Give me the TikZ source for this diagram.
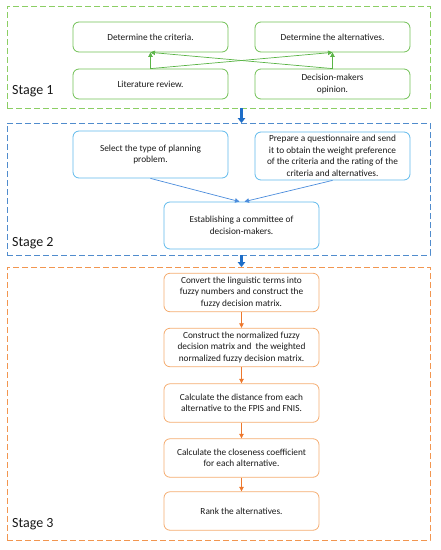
\documentclass[tikz,border=0pt]{standalone}
\usepackage{fontspec}
\setmainfont{Carlito}
\usetikzlibrary{positioning}
\usetikzlibrary{arrows.meta}
\definecolor{framegreen}{RGB}{140,206,100}
\definecolor{boxgreen}{RGB}{112,192,84}
\definecolor{arrowgreen}{RGB}{90,180,70}
\definecolor{frameblue}{RGB}{80,140,205}
\definecolor{boxblue}{RGB}{95,185,235}
\definecolor{arrowblue}{RGB}{75,140,220}
\definecolor{bigblue}{RGB}{30,110,200}
\definecolor{frameorange}{RGB}{242,150,80}
\definecolor{boxorange}{RGB}{244,172,112}
\definecolor{arroworange}{RGB}{237,120,45}
\tikzstyle{frame}=[rectangle,dash pattern=on 6pt off 3pt,line width=0.9pt,inner sep=0pt,outer sep=0pt,minimum width=423pt]
\tikzstyle{stepbox}=[rectangle,rounded corners=6pt,line width=0.8pt,minimum width=155pt,align=center,inner sep=2pt,font=\fontsize{9.3}{11.5}\selectfont,text=black!90]
\tikzstyle{stagelabel}=[anchor=west,inner sep=0pt,font=\fontsize{14}{16}\selectfont,text=black!90]
\tikzstyle{smallarrow}=[-{Triangle[length=4.5pt,width=4.5pt]},line width=0.7pt]
\tikzstyle{bigarrow}=[-{Triangle[length=5pt,width=7.5pt]},line width=2.6pt,bigblue]

\begin{document}
\begin{tikzpicture}[x=1pt,y=-1pt]
\useasboundingbox (0,0) rectangle (440,550);

%Stage 1
\node[frame,draw=framegreen,minimum height=102pt] (f1) at (218.5,57) {};
\node[stagelabel] (l1) at (12,91) {Stage 1};
    \foreach \pos/\name/\label in {{(150.5,37)/crit/Determine the criteria.}, {(332.5,37)/alt/Determine the alternatives.},
      {(150.5,84)/lit/Literature review.}, {(332.5,84)/dec/Decision-makers\\opinion.}}
        \node[stepbox,draw=boxgreen,minimum height=30pt] (\name) at \pos {\label};
  \foreach \source/ \dest in {lit/crit, lit/alt, dec/crit, dec/alt}
          \draw[smallarrow,arrowgreen] (\source.north) -- (\dest.south);

%Stage 2
\node[frame,draw=frameblue,minimum height=132pt] (f2) at (218.5,189) {};
\node[stagelabel] (l2) at (12,243) {Stage 2};
\node[stepbox,draw=boxblue,minimum height=47pt] (sel) at (150.5,154.5) {Select the type of planning\\problem.};
\node[stepbox,draw=boxblue,minimum height=48pt] (prep) at (332.5,156) {Prepare a questionnaire and send\\it to obtain the weight preference\\of the criteria and the rating of the\\criteria and alternatives.};
\node[stepbox,draw=boxblue,minimum height=47pt] (com) at (241.5,225.5) {Establishing a committee of\\decision-makers.};
\draw[smallarrow,arrowblue] (sel.south) -- ([xshift=-2pt]com.north);
\draw[smallarrow,arrowblue] (prep.south) -- ([xshift=3pt]com.north);

%Stage 3
\node[frame,draw=frameorange,minimum height=273pt] (f3) at (218.5,403.5) {};
\node[stagelabel] (l3) at (12,524) {Stage 3};
    \foreach \pos/\name/\label in {{(241.5,292.5)/conv/Convert the linguistic terms into\\fuzzy numbers and construct the\\fuzzy decision matrix.},
      {(241.5,347.5)/norm/Construct the normalized fuzzy\\decision matrix and~ the weighted\\normalized fuzzy decision matrix.},
      {(241.5,403)/dist/Calculate the distance from each\\alternative to the FPIS and FNIS.},
      {(241.5,458)/close/Calculate the closeness coefficient\\for each alternative.},
      {(241.5,511)/rank/Rank the alternatives.}}
        \node[stepbox,draw=boxorange,minimum height=38.5pt] (\name) at \pos {\label};
  \foreach \source/ \dest in {conv/norm, norm/dist, dist/close, close/rank}
          \draw[smallarrow,arroworange] (\source) -- (\dest);

%between stages
\draw[bigarrow] (f1.south -| conv) -- (f2.north -| conv);
\draw[bigarrow] (f2.south -| conv) -- (f3.north -| conv);

\end{tikzpicture}
\end{document}
